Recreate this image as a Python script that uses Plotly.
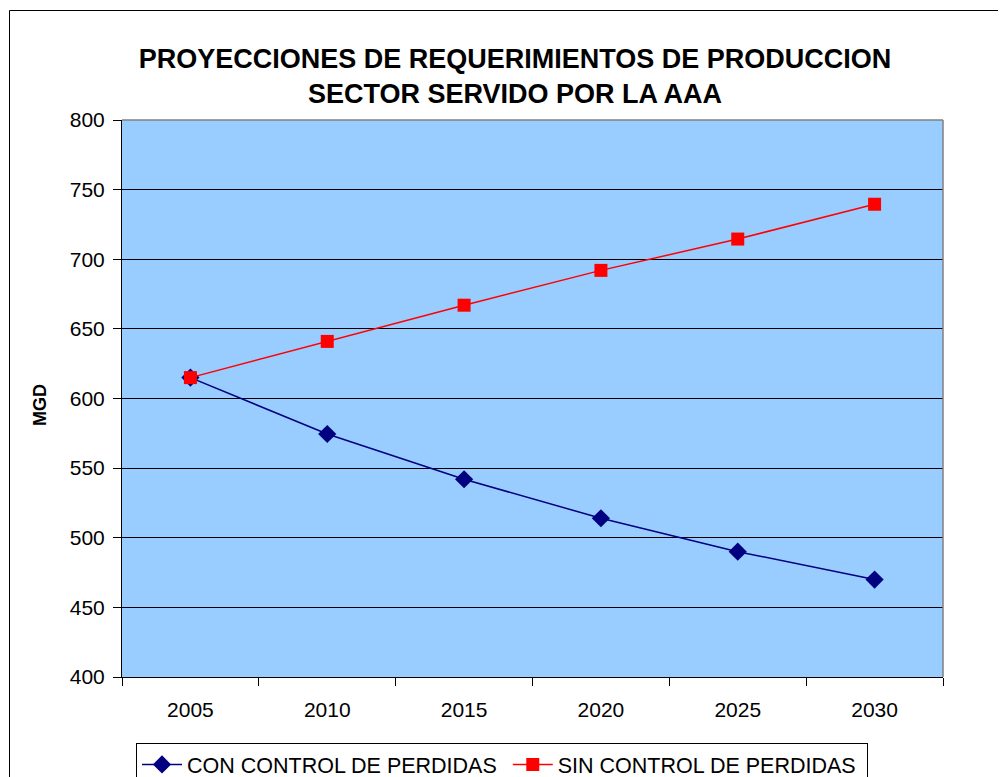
import plotly.graph_objects as go

years = ["2005", "2010", "2015", "2020", "2025", "2030"]
con_control = [615, 574.5, 542, 514, 490, 470]
sin_control = [615, 641, 667, 692, 714.5, 739.5]
series_names = ["CON CONTROL DE PERDIDAS", "SIN CONTROL DE PERDIDAS"]

# page is offset by default 8px body margin
OFF = 8
W, H = 1006 - OFF, 777 - OFF
L, R, T, B = 122 - OFF, 943 - OFF, 120 - OFF, 677 - OFF

def px(x):
    return (x - OFF - L) / (R - L)

def py(y):
    return (B - (y - OFF)) / (B - T)

FONT = "Liberation Sans, Arial, sans-serif"

fig = go.Figure()
fig.add_trace(go.Scatter(
    x=years, y=con_control, name=series_names[0] + "\u00a0",
    mode="lines+markers",
    line=dict(color="#000080", width=1.5),
    marker=dict(symbol="diamond", size=14, color="#000080"),
))
fig.add_trace(go.Scatter(
    x=years, y=sin_control, name=series_names[1] + "\u00a0",
    mode="lines+markers",
    line=dict(color="#FF0000", width=1.5),
    marker=dict(symbol="square", size=13, color="#FF0000"),
))

fig.update_layout(
    width=W, height=H,
    margin=dict(l=L, r=W - R, t=T, b=H - B, pad=0, autoexpand=False),
    paper_bgcolor="white",
    plot_bgcolor="#99CCFF",
    font=dict(family=FONT, size=21, color="black"),
    title=dict(
        text="<b>PROYECCIONES DE REQUERIMIENTOS DE PRODUCCION<br>SECTOR SERVIDO POR LA AAA</b>",
        x=(515 - OFF) / W, xanchor="center", y=1 - (67.5 - OFF) / H, yanchor="middle",
        font=dict(size=27, family=FONT, color="black"),
    ),
    showlegend=True,
    legend=dict(
        orientation="h", x=px(136), y=py(743), xanchor="left", yanchor="top",
        bordercolor="black", borderwidth=1, bgcolor="white",
        font=dict(size=21.5), itemwidth=40, tracegroupgap=0,
    ),
    xaxis=dict(
        type="category", range=[-0.5, 5.5],
        tickson="boundaries", ticks="outside", ticklen=8, tickcolor="black",
        showline=True, linecolor="black", linewidth=1,
        showgrid=False, tickfont=dict(size=21), ticklabelstandoff=14,
    ),
    yaxis=dict(
        range=[400, 800], dtick=50, tick0=400,
        ticks="outside", ticklen=8, tickcolor="black",
        showline=True, linecolor="black", linewidth=1,
        showgrid=True, gridcolor="black", gridwidth=1,
        zeroline=False, tickfont=dict(size=21), ticklabelstandoff=4,
    ),
    annotations=[
        dict(text="<b>MGD</b>", xref="paper", yref="paper",
             x=px(40), y=py(405), xanchor="center", yanchor="middle",
             textangle=-90, showarrow=False, font=dict(size=18, family=FONT)),
    ],
    shapes=[
        dict(type="rect", xref="paper", yref="paper",
             x0=px(9.5), x1=px(1030), y0=py(800), y1=py(10.5),
             line=dict(color="black", width=1), fillcolor="rgba(0,0,0,0)", layer="below"),
        dict(type="line", xref="paper", yref="paper",
             x0=0, x1=1, y0=1, y1=1, line=dict(color="#808080", width=1.5)),
        dict(type="line", xref="paper", yref="paper",
             x0=1, x1=1, y0=0, y1=1, line=dict(color="#808080", width=1.5)),
    ],
)

fig.write_html("out.html")
